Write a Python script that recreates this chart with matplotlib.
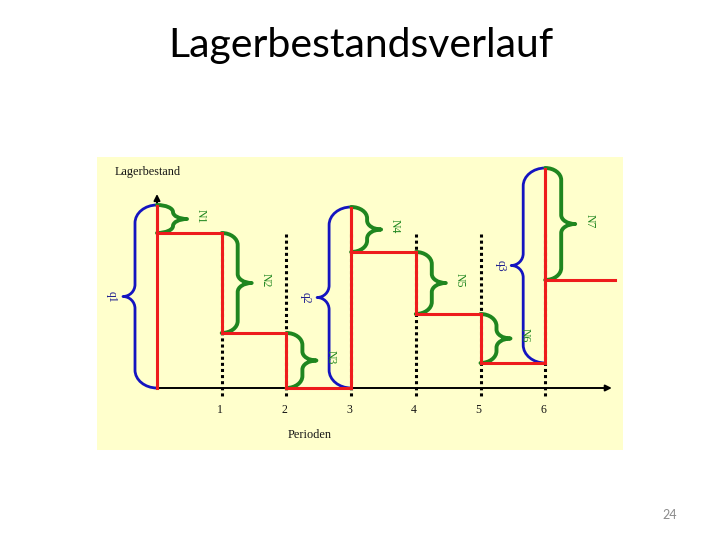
import matplotlib
matplotlib.use("Agg")
import matplotlib.pyplot as plt
from matplotlib.path import Path
from matplotlib.patches import PathPatch, FancyArrowPatch

# ---------------- data ----------------
periods = [1, 2, 3, 4, 5, 6]
period_labels = ["1", "2", "3", "4", "5", "6"]
delivery_periods = [0, 3, 6]
delivery_qty = [18.3, 18.1, 19.5]
delivery_labels = ["q1", "q2", "q3"]
demand_periods = [0, 1, 2, 3, 4, 5, 6]
demand_qty = [2.8, 10.0, 5.5, 4.5, 6.2, 4.9, 11.2]
demand_labels = ["N1", "N2", "N3", "N4", "N5", "N6", "N7"]
end_period = 7.08

title = "Lagerbestandsverlauf"
y_title = "Lagerbestand"
x_title = "Perioden"
page_no = "24"

# ---------------- styling ----------------
RED = "#ee1c1c"
GREEN = "#1f861f"
BLUE = "#1414c0"
PANEL = "#ffffcc"
SERIF = ["Liberation Serif", "DejaVu Serif"]

W, H = 720, 540
fig = plt.figure(figsize=(7.2, 5.4), dpi=100)
fig.patch.set_facecolor("white")

# panel (embedded picture area)
left_px, right_px, top_px, bot_px = 97, 623, 157, 450
ax = fig.add_axes([left_px / W, 1 - bot_px / H, (right_px - left_px) / W, (bot_px - top_px) / H])
ax.set_facecolor(PANEL)
for s in ax.spines.values():
    s.set_visible(False)
ax.set_xticks([])
ax.set_yticks([])

SX = 64.7   # px per period
SY = 10.0   # px per stock unit
x0_px, y0_px = 157, 388
ax.set_xlim((left_px - x0_px) / SX, (right_px - x0_px) / SX)
ax.set_ylim((y0_px - bot_px) / SY, (y0_px - top_px) / SY)


def brace(x, y_top, y_bot, d, w, t, r, r2, color, lw):
    """Curly brace in data coords at x between y_top and y_bot,
    sizes given in pixels; d=-1 tip left, d=+1 tip right."""
    Hpx = (y_top - y_bot) * SY
    m = Hpx / 2
    r = min(r, Hpx / 4)
    r2 = min(r2, Hpx / 4)
    k = 0.552
    pts = [
        (0, 0),
        (k * d * w, 0), (d * w, (1 - k) * r), (d * w, r),
        (d * w, m - r2),
        (d * w, m - (1 - k) * r2), (d * (w + (1 - k) * t), m), (d * (w + t), m),
        (d * (w + (1 - k) * t), m), (d * w, m + (1 - k) * r2), (d * w, m + r2),
        (d * w, Hpx - r),
        (d * w, Hpx - (1 - k) * r), (k * d * w, Hpx), (0, Hpx),
    ]
    codes = [Path.MOVETO,
             Path.CURVE4, Path.CURVE4, Path.CURVE4,
             Path.LINETO,
             Path.CURVE4, Path.CURVE4, Path.CURVE4,
             Path.CURVE4, Path.CURVE4, Path.CURVE4,
             Path.LINETO,
             Path.CURVE4, Path.CURVE4, Path.CURVE4]
    verts = [(x + px / SX, y_top - py / SY) for px, py in pts]
    ax.add_patch(PathPatch(Path(verts, codes), fill=False, edgecolor=color,
                           lw=lw, capstyle="round", joinstyle="round", zorder=3))
    return x + d * (w + t) / SX, (y_top + y_bot) / 2


# dotted period lines
for p in periods:
    ax.plot([p, p], [15.4, -1.0], color="black", lw=2.2,
            linestyle=(0, (1, 1)), zorder=2)

# x axis with arrow
ax.add_patch(FancyArrowPatch((0, 0), (7.03, 0), arrowstyle="-|>", mutation_scale=9,
                             color="black", lw=1.4, zorder=2, shrinkA=0, shrinkB=0))
# y axis with arrow
ax.add_patch(FancyArrowPatch((0, 0), (0, 19.4), arrowstyle="-|>", mutation_scale=9,
                             color="black", lw=1.4, zorder=2, shrinkA=0, shrinkB=0))

# stock path and braces
xs, ys = [0], [0.0]
stock = 0.0
for i, t in enumerate(demand_periods):
    if t in delivery_periods:
        j = delivery_periods.index(t)
        q = delivery_qty[j]
        tipx, tipy = brace(t, stock + q, stock, -1, 22, 12, 18, 12, BLUE, 2.0)
        ax.text(tipx - 11 / SX, tipy, delivery_labels[j], rotation=-90, ha="center",
                va="center", color="#202090", fontsize=8.5, family=SERIF, zorder=5)
        stock += q
        xs.append(t); ys.append(stock)
    n = demand_qty[i]
    tipx, tipy = brace(t, stock, stock - n, 1, 16, 14, 12, 9, GREEN, 2.8)
    ax.text(tipx + 14 / SX, tipy + 0.3, demand_labels[i], rotation=-90,
            ha="center", va="center", color=GREEN, fontsize=8.5, family=SERIF, zorder=5)
    stock -= n
    xs.append(t); ys.append(stock)
    nxt = t + 1 if i < len(demand_periods) - 1 else end_period
    xs.append(nxt); ys.append(stock)

ax.plot(xs, ys, color=RED, lw=2.2, solid_joinstyle="miter", zorder=4)

# tick labels
for p, lab in zip(periods, period_labels):
    ax.text(p - 0.03, -2.2, lab, ha="center", va="center", fontsize=8.5,
            family=SERIF, color="#151515")

ax.text((115 - x0_px) / SX, (y0_px - 172) / SY, y_title, ha="left", va="center",
        fontsize=8.8, family=SERIF, color="#151515")
ax.text((310 - x0_px) / SX, (y0_px - 435) / SY, x_title, ha="center", va="center",
        fontsize=8.8, family=SERIF, color="#151515")

# slide texts
fig.text(361 / W, 1 - 57 / H, title, ha="center", va="baseline", fontsize=29.5,
         family=["Lato", "DejaVu Sans"], color="black")
fig.text(670 / W, 1 - 515 / H, page_no, ha="center", va="center", fontsize=9,
         family=["Lato", "DejaVu Sans"], color="#8b8b8b")

fig.savefig("out.png", dpi=100, facecolor="white")
